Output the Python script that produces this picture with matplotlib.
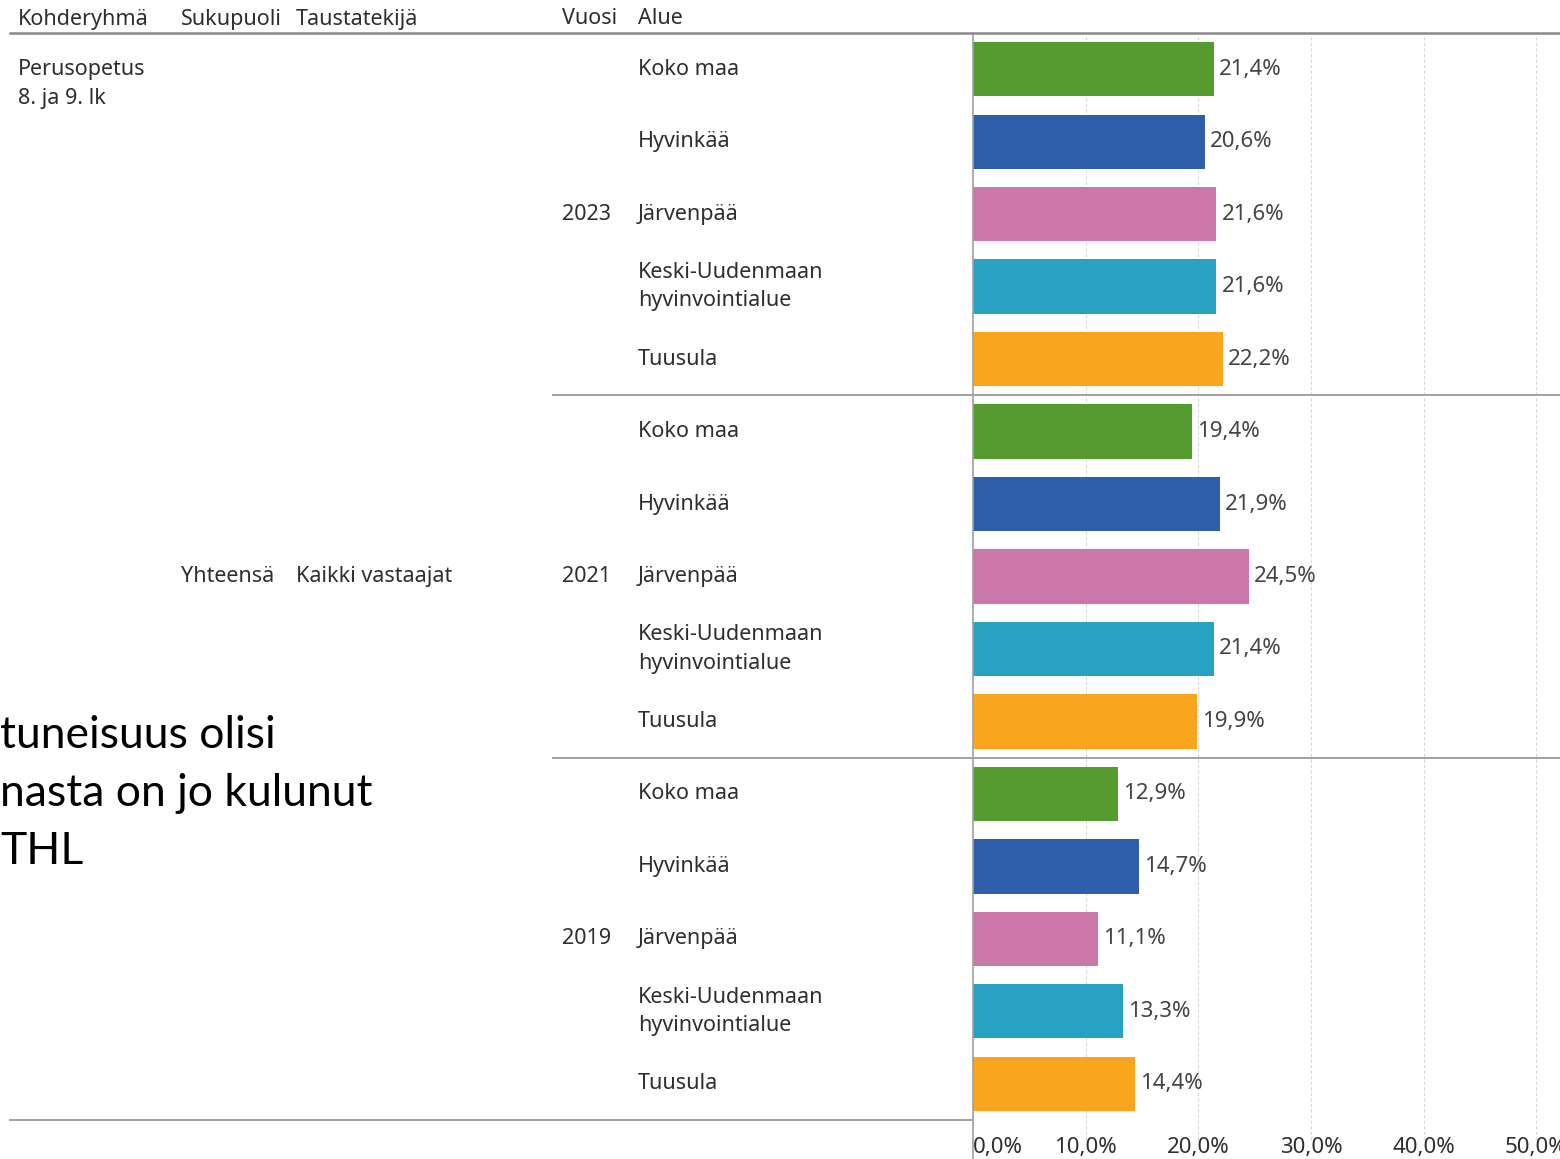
import matplotlib
matplotlib.use("Agg")
import matplotlib.pyplot as plt
from matplotlib.transforms import blended_transform_factory

# data
years = ["2023", "2021", "2019"]
regions = ["Koko maa", "Hyvinkää", "Järvenpää",
           "Keski-Uudenmaan\nhyvinvointialue", "Tuusula"]
values_2023 = [21.4, 20.6, 21.6, 21.6, 22.2]
values_2021 = [19.4, 21.9, 24.5, 21.4, 19.9]
values_2019 = [12.9, 14.7, 11.1, 13.3, 14.4]
region_colors = ["#559b2f", "#2f5faa", "#cc77aa", "#29a1c3", "#f9a51d"]
xticks = [0, 10, 20, 30, 40, 50]
headers = ["Kohderyhmä", "Sukupuoli", "Taustatekijä", "Vuosi", "Alue"]
group_label = ["Perusopetus", "8. ja 9. lk"]
gender_label = "Yhteensä"
background_label = "Kaikki vastaajat"
slide_text = ["tuneisuus olisi", "nasta on jo kulunut", "THL"]

W, H = 1560, 1159
TXT = "#2e2e2e"
LINE = "#a0a0a0"
FONT = "Noto Sans"
FS = 15.5

fig = plt.figure(figsize=(W / 100, H / 100), dpi=100)
fig.patch.set_facecolor("white")

# leftover slide text behind the chart
for k, s in enumerate(slide_text):
    fig.text(0, 1 - (735 + 58 * k) / H, s, fontsize=32, family="Lato",
             color="black", va="center", ha="left")

ax = fig.add_axes([973 / W, 1 - 1120 / H, 1 - 973 / W, (1120 - 33) / H])
ax.set_facecolor("none")

all_values = values_2023 + values_2021 + values_2019
n = len(all_values)
ypos = list(range(n))
colors = region_colors * len(years)
ax.barh(ypos, all_values, height=0.75, color=colors, zorder=3)

for y, v in zip(ypos, all_values):
    ax.text(v + 0.45, y, f"{v:.1f}%".replace(".", ","), va="center",
            ha="left", fontsize=16, family=FONT, color="#444444", zorder=4)

ax.set_xlim(0, 52.1)
ax.set_ylim(n - 0.5, -0.5)
ax.set_yticks([])
ax.set_xticks(xticks)
ax.set_xticklabels([f"{t:.1f}%".replace(".", ",") for t in xticks],
                   family=FONT, fontsize=16, color=TXT)
ax.get_xticklabels()[0].set_ha("left")
ax.tick_params(axis="x", length=0, pad=12)
for sp in ax.spines.values():
    sp.set_visible(False)

# grid and axis lines
for t in xticks[1:]:
    ax.axvline(t, ymin=-0.018, ymax=1, color="#d8d8d8", lw=0.8,
               ls=(0, (3, 2)), clip_on=False, zorder=1)
ax.axvline(0, ymin=-0.037, ymax=1, color=LINE, lw=1.2, clip_on=False, zorder=5)

span = W - 973
ax.axhline(-0.5, xmin=(10 - 973) / span, xmax=1, color="#8a8a8a", lw=1.8,
           clip_on=False, zorder=5)
per = len(regions)
for g in range(1, len(years)):
    ax.axhline(g * per - 0.5, xmin=(553 - 973) / span, xmax=1, color=LINE,
               lw=1.4, clip_on=False, zorder=5)
ax.axhline(n - 0.5, xmin=(10 - 973) / span, xmax=0, color=LINE, lw=1.4,
           clip_on=False, zorder=5)

# header row
for x, h in zip([18, 181, 296, 562, 638], headers):
    fig.text(x / W, 1 - 19 / H, h, fontsize=FS, family=FONT, color=TXT,
             va="center", ha="left")

rows = blended_transform_factory(fig.transFigure, ax.transData)
for g, yr in enumerate(years):
    mid = g * per + (per - 1) / 2
    ax.text(562 / W, mid, yr, transform=rows, fontsize=FS, family=FONT,
            color=TXT, va="center", ha="left")
    for r, name in enumerate(regions):
        ax.text(638 / W, g * per + r, name, transform=rows, fontsize=FS,
                family=FONT, color=TXT, va="center", ha="left",
                linespacing=1.45)

for k, s in enumerate(group_label):
    ax.text(18 / W, 0.41 * k, s, transform=rows, fontsize=FS, family=FONT,
            color=TXT, va="center", ha="left")
ax.text(181 / W, (n - 1) / 2, gender_label, transform=rows, fontsize=FS,
        family=FONT, color=TXT, va="center", ha="left")
ax.text(296 / W, (n - 1) / 2, background_label, transform=rows, fontsize=FS,
        family=FONT, color=TXT, va="center", ha="left")

fig.savefig("out.png", dpi=100, facecolor="white")
